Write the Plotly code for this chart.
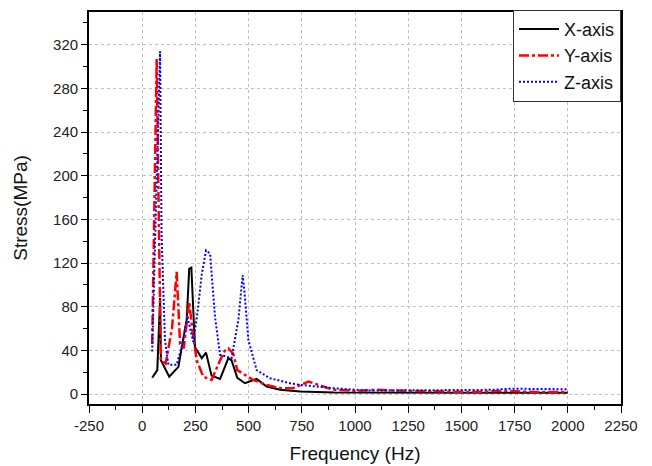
import plotly.graph_objects as go

# X-axis series
freq_x = [47, 71, 84, 88, 127, 170, 209, 221, 231, 248, 280, 300, 326, 366, 405, 420, 447, 483, 538, 585, 648, 742, 900, 1100, 1300, 1500, 1700, 1900, 2000]
stress_x = [15, 22, 88, 31, 16, 25, 68, 115, 116, 43, 33, 38, 17, 14, 33, 31, 15, 10, 14, 7, 4, 2.4, 1.5, 1.5, 1.5, 1.2, 1.2, 1.2, 1.2]

# Y-axis series
freq_y = [47, 68, 79, 88, 110, 140, 162, 178, 195, 212, 221, 235, 256, 287, 326, 366, 389, 405, 428, 447, 475, 522, 585, 648, 709, 742, 781, 828, 898, 1000, 1100, 1250, 1400, 1550, 1700, 1850, 2000]
stress_y = [46, 307, 147, 31, 28, 60, 112, 46, 42, 70, 84.5, 60, 31, 16, 13, 31, 40, 42, 37, 22, 18.5, 13, 8.5, 5.5, 5.5, 8.5, 11.5, 8.5, 4, 3, 4, 3, 2.5, 2, 3, 2, 2]

# Z-axis series
freq_z = [47, 84, 91, 107, 123, 162, 185, 212, 240, 260, 280, 300, 319, 342, 366, 420, 452, 472, 480, 499, 538, 600, 695, 742, 898, 1055, 1250, 1450, 1650, 1728, 1850, 2000]
stress_z = [39, 314, 147, 49.5, 27, 27, 43, 71, 48, 75, 110, 131.7, 128.7, 71, 36, 33, 68, 109, 95, 49.5, 22, 14.6, 10, 8.5, 5.5, 3.3, 3.5, 3.5, 4, 5, 4.5, 4.5]

x_ticks = [-250, 0, 250, 500, 750, 1000, 1250, 1500, 1750, 2000, 2250]
y_ticks = [0, 40, 80, 120, 160, 200, 240, 280, 320]

font_family = "Arial, Liberation Sans, sans-serif"

fig = go.Figure()
fig.add_trace(go.Scatter(x=freq_x, y=stress_x, mode="lines", name="X-axis",
                         line=dict(color="black", width=2)))
fig.add_trace(go.Scatter(x=freq_y, y=stress_y, mode="lines", name="Y-axis",
                         line=dict(color="#ff0000", width=2.5, dash="10px,3px,3px,3px")))
fig.add_trace(go.Scatter(x=freq_z, y=stress_z, mode="lines", name="Z-axis",
                         line=dict(color="#0000ff", width=2, dash="2px,2px")))

fig.update_layout(
    width=652, height=466,
    margin=dict(l=89, r=31, t=11, b=62),
    plot_bgcolor="white", paper_bgcolor="white",
    font=dict(family=font_family, color="#222", size=15),
    legend=dict(x=1, y=1.003, xanchor="right", yanchor="top",
                bgcolor="white", bordercolor="#333", borderwidth=1,
                font=dict(size=18, color="#111"), tracegroupgap=0,
                itemwidth=40),
)
fig.update_xaxes(
    range=[-250, 2250], tickvals=x_ticks, ticktext=[str(v) for v in x_ticks],
    showline=True, linecolor="black", linewidth=1.8, mirror=True,
    ticks="outside", ticklen=7, tickcolor="black", tickwidth=1.2,
    showgrid=True, gridcolor="#c0c0c0", griddash="dot", gridwidth=1,
    zeroline=False, automargin=False,
    minor=dict(dtick=125, tick0=0, ticks="outside", ticklen=4, tickcolor="black", showgrid=False),
    title=dict(text="Frequency (Hz)", font=dict(size=19, color="#111"), standoff=14),
)
fig.update_yaxes(
    range=[-9, 350], tickvals=y_ticks, ticktext=[str(v) for v in y_ticks],
    showline=True, linecolor="black", linewidth=1.8, mirror=True,
    ticks="outside", ticklen=6, tickcolor="black", tickwidth=1.2,
    showgrid=True, gridcolor="#c0c0c0", griddash="dot", gridwidth=1,
    zeroline=False, automargin=False,
    minor=dict(dtick=20, tick0=0, ticks="outside", ticklen=4, tickcolor="black", showgrid=False),
    title=dict(text="Stress(MPa)", font=dict(size=19, color="#111"), standoff=20),
)

fig.write_html("out.html")
